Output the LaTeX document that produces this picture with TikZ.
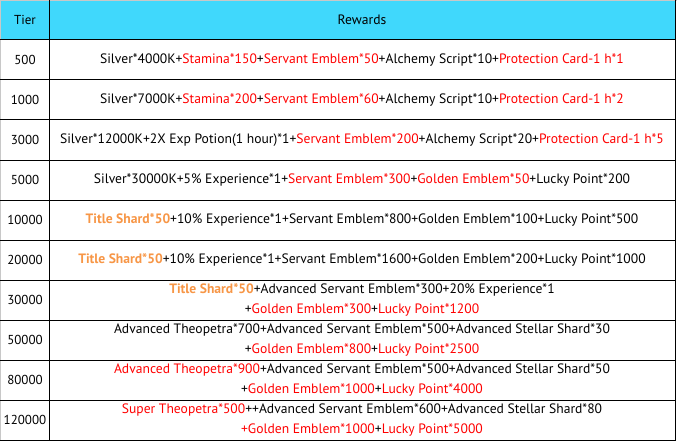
\documentclass[tikz,border=0pt]{standalone}
\usepackage{fontspec}
\setmainfont{PT Sans}
\usepackage{tikz}
\usetikzlibrary{positioning}
\definecolor{headcyan}{RGB}{64,216,252}
\definecolor{rewardred}{RGB}{255,0,0}
\definecolor{titleorange}{RGB}{247,150,70}
\definecolor{edgegray}{RGB}{200,200,200}
\newcommand{\rd}[1]{\textcolor{rewardred}{#1}}
\newcommand{\ttl}[1]{\textcolor{titleorange}{\bfseries #1}}

\begin{document}
\begin{tikzpicture}[
            x = 1pt, y = -1pt, % one pixel per point, y going down
            line width = 1pt,
            cell/.style = {inner sep = 0pt, align = center,
                font = \fontsize{13.6}{19.5}\selectfont},
            tiercell/.style = {cell, font = \fontsize{13}{19.5}\selectfont}
        ]

        \useasboundingbox (0,0) rectangle (677,441);

	% header
        \fill[headcyan] (0,0) rectangle (675,40);
        \draw[edgegray] (0,0.5) -- (677,0.5);
        \draw[edgegray] (0.5,0) -- (0.5,441);

        % grid
        \foreach \y in {40,80,...,440}
            \draw (0,\y) -- (675,\y);
        \draw (49,0) -- (49,440);
        \draw (675,0) -- (675,440.5);

        \node[tiercell] (tierhead) at (25,20) {Tier};
        \node[cell] (rewardshead) at (362,20) {Rewards};

	% tiers
        \node[tiercell] (t500) at (25,60) {500};
        \node[tiercell] (t1000) at (25,100) {1000};
        \node[tiercell] (t3000) at (25,140) {3000};
        \node[tiercell] (t5000) at (25,180) {5000};
        \node[tiercell] (t10000) at (25,220) {10000};
        \node[tiercell] (t20000) at (25,260) {20000};
        \node[tiercell] (t30000) at (25,300) {30000};
        \node[tiercell] (t50000) at (25,340) {50000};
        \node[tiercell] (t80000) at (25,380) {80000};
        \node[tiercell] (t120000) at (25,420) {120000};

         % rewards
         \node[cell] (r500) at (362,60) {Silver*4000K+\rd{Stamina*150}+\rd{Servant Emblem*50}+Alchemy Script*10+\rd{Protection Card-1 h*1}};
         \node[cell] (r1000) at (362,100) {Silver*7000K+\rd{Stamina*200}+\rd{Servant Emblem*60}+Alchemy Script*10+\rd{Protection Card-1 h*2}};
         \node[cell] (r3000) at (362,140) {Silver*12000K+2X Exp Potion(1 hour)*1+\rd{Servant Emblem*200}+Alchemy Script*20+\rd{Protection Card-1 h*5}};
         \node[cell] (r5000) at (362,180) {Silver*30000K+5\% Experience*1+\rd{Servant Emblem*300}+\rd{Golden Emblem*50}+Lucky Point*200};
         \node[cell] (r10000) at (362,220) {\ttl{Title Shard*50}+10\% Experience*1+Servant Emblem*800+Golden Emblem*100+Lucky Point*500};
         \node[cell] (r20000) at (362,260) {\ttl{Title Shard*50}+10\% Experience*1+Servant Emblem*1600+Golden Emblem*200+Lucky Point*1000};
         \node[cell] (r30000) at (362,300) {\ttl{Title Shard*50}+Advanced Servant Emblem*300+20\% Experience*1\\+\rd{Golden Emblem*300}+\rd{Lucky Point*1200}};
         \node[cell] (r50000) at (362,340) {Advanced Theopetra*700+Advanced Servant Emblem*500+Advanced Stellar Shard*30\\+\rd{Golden Emblem*800}+\rd{Lucky Point*2500}};
         \node[cell] (r80000) at (362,380) {\rd{Advanced Theopetra*900}+Advanced Servant Emblem*500+Advanced Stellar Shard*50\\+\rd{Golden Emblem*1000}+\rd{Lucky Point*4000}};
         \node[cell] (r120000) at (362,420) {\rd{Super Theopetra*500}++Advanced Servant Emblem*600+Advanced Stellar Shard*80\\\rd{+Golden Emblem*1000}+\rd{Lucky Point*5000}};

  \end{tikzpicture}
\end{document}
